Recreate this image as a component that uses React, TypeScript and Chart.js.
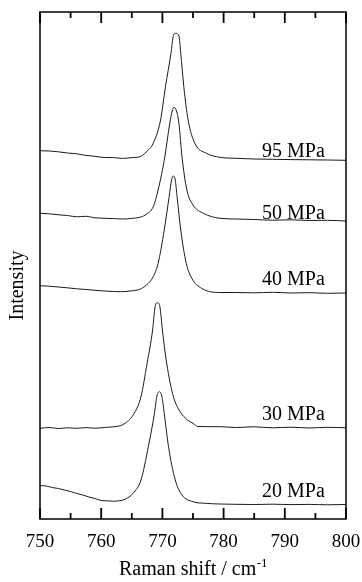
import { useEffect, useRef } from 'react';
import { Chart, registerables } from 'chart.js';

Chart.register(...registerables);

const FONT = '"Liberation Serif", "Times New Roman", serif';

// x: Raman shift (cm-1), y: intensity (arbitrary units, offset spectra)
const x95 = [750, 751.5, 753, 754.5, 756, 757.5, 759, 760.5, 762, 763.5, 765, 766.3, 767.4, 768.5, 769.7, 770.5, 771.4, 771.8, 772.2, 772.7, 773.0, 773.5, 774.2, 775.3, 777.2, 779.4, 782, 785, 788, 791, 794, 797, 800];
const y95 = [368.3, 368.0, 367.2, 366.0, 365.2, 363.6, 362.7, 361.5, 361.4, 360.6, 361.4, 362.3, 367.3, 375.7, 399, 432.3, 465.7, 483.5, 485.7, 483, 465.7, 432.3, 399, 375.7, 365.7, 361.7, 360.7, 360.0, 359.7, 359.4, 359.2, 359.0, 358.7];

const x50 = [750, 751.5, 753, 754.5, 756, 757.5, 759, 760.5, 762, 763.5, 765, 766.3, 767.2, 768.5, 769.3, 770.4, 771.2, 771.6, 771.9, 772.3, 772.7, 773.2, 774.0, 775.0, 776.7, 779.4, 782, 785, 788, 791, 794, 797, 800];
const y50 = [305.7, 305.2, 304.2, 303.5, 302.2, 302.7, 301.2, 300.7, 300.4, 300.0, 300.6, 301.7, 304, 312.3, 329, 362.3, 395.7, 408, 411.7, 408, 395.7, 362.3, 329, 314, 305.7, 300.7, 300, 299.5, 298.8, 299.2, 298.5, 298.7, 298];

const x40 = [750, 751.5, 753, 754.5, 756, 757.5, 759, 760.5, 762, 763.1, 765, 766.3, 767.4, 768.5, 769.3, 770.3, 771.1, 771.5, 771.8, 772.1, 772.4, 773.0, 773.9, 774.8, 776.4, 779.4, 782, 785, 788, 791, 794, 797, 800];
const y40 = [233.3, 232.8, 232, 231.2, 230.2, 229.5, 228.7, 228, 227.5, 227.3, 228.2, 229.7, 234, 242.3, 255.7, 289, 322.3, 339, 343, 339, 322.3, 289, 255.7, 240.7, 230.7, 226.5, 226.5, 226.2, 226.7, 226, 226.3, 225.7, 226];

const x30 = [750, 751.5, 753, 754.5, 756, 757.5, 759, 760.5, 762, 763.1, 763.9, 765.4, 766.5, 767.5, 768.4, 768.8, 769.2, 769.6, 770.0, 770.7, 771.8, 772.9, 774.1, 775.0, 775.8, 779.4, 782, 785, 788, 791, 794, 797, 800];
const y30 = [90.7, 91.5, 90.5, 91.2, 90.7, 91.4, 90.8, 91.5, 92.2, 93.3, 95.7, 105.7, 122.3, 155.7, 189, 212, 216.3, 212, 189, 155.7, 122.3, 107.3, 99, 95.7, 92.5, 92.3, 91.5, 92.2, 91.2, 91.8, 91, 91.7, 91.2];

const x20 = [750, 751, 752, 753, 754, 755, 756, 757, 758, 759, 760, 761, 762, 763, 763.9, 765.2, 766.5, 767.7, 768.7, 769.1, 769.5, 769.9, 770.3, 771.0, 772.1, 773.2, 775.0, 777, 779.4, 782, 785, 788, 791, 794, 797, 800];
const y20 = [33.5, 33, 31.5, 30.5, 29, 27.5, 25.5, 24, 22, 20.5, 18.5, 18.2, 17.8, 18.3, 19.7, 25.7, 39, 72.3, 105.7, 123, 127.3, 123, 105.7, 72.3, 39, 24, 17.3, 15.7, 15, 14.7, 14.5, 14.8, 14.4, 14.6, 14.2, 14.5];

const seriesLabels = ['95 MPa', '50 MPa', '40 MPa', '30 MPa', '20 MPa'];
const seriesX = [x95, x50, x40, x30, x20];
const seriesY = [y95, y50, y40, y30, y20];
const labelX = 791.4;
const labelY = [367, 305, 239, 104, 27];

const xMin = 750;
const xMax = 800;
const xMajorStep = 10;
const xMinorStep = 5;
const yMin = 0;
const yMax = 507;

const decorPlugin = {
  id: 'decor',
  afterDraw(chart: any) {
    const { ctx, chartArea: a, scales } = chart;
    const xs = scales.x;
    const ys = scales.y;
    ctx.save();
    ctx.strokeStyle = '#000';
    ctx.fillStyle = '#000';
    ctx.lineWidth = 1.5;
    ctx.strokeRect(a.left, a.top, a.right - a.left, a.bottom - a.top);

    const n = Math.round((xMax - xMin) / xMinorStep);
    const ratio = Math.round(xMajorStep / xMinorStep);
    ctx.lineWidth = 1.8;
    for (let i = 0; i <= n; i++) {
      const v = xMin + i * xMinorStep;
      const px = xs.getPixelForValue(v);
      const len = i % ratio === 0 ? 11 : 6;
      ctx.beginPath();
      ctx.moveTo(px, a.bottom);
      ctx.lineTo(px, a.bottom - len);
      ctx.stroke();
      ctx.beginPath();
      ctx.moveTo(px, a.top);
      ctx.lineTo(px, a.top + len);
      ctx.stroke();
    }

    ctx.font = `20px ${FONT}`;
    ctx.textAlign = 'center';
    ctx.textBaseline = 'middle';
    seriesLabels.forEach((t, i) => {
      ctx.fillText(t, xs.getPixelForValue(labelX), ys.getPixelForValue(labelY[i]));
    });

    // x title with superscript
    const main = 'Raman shift / cm';
    const sup = '-1';
    ctx.font = `20px ${FONT}`;
    const wMain = ctx.measureText(main).width;
    ctx.font = `13px ${FONT}`;
    const wSup = ctx.measureText(sup).width;
    const cx = (a.left + a.right) / 2;
    const startX = cx - (wMain + wSup) / 2;
    const base = a.bottom + 56;
    ctx.textAlign = 'left';
    ctx.textBaseline = 'alphabetic';
    ctx.font = `20px ${FONT}`;
    ctx.fillText(main, startX, base);
    ctx.font = `13px ${FONT}`;
    ctx.fillText(sup, startX + wMain + 0.5, base - 8);

    // y title
    ctx.save();
    ctx.translate(17.5, (a.top + a.bottom) / 2 + 20);
    ctx.rotate(-Math.PI / 2);
    ctx.font = `20px ${FONT}`;
    ctx.textAlign = 'center';
    ctx.textBaseline = 'middle';
    ctx.fillText('Intensity', 0, 0);
    ctx.restore();
    ctx.restore();
  },
};

export default function App() {
  const ref = useRef<HTMLCanvasElement | null>(null);
  useEffect(() => {
    document.body.style.margin = '0';
    if (!ref.current) return;
    const chart = new Chart(ref.current, {
      type: 'line',
      data: {
        datasets: seriesLabels.map((label, i) => ({
          label,
          data: seriesX[i].map((x, j) => ({ x, y: seriesY[i][j] })),
          borderColor: '#1a1a1a',
          borderWidth: 1,
          pointRadius: 0,
          fill: false,
          cubicInterpolationMode: 'monotone' as const,
        })),
      },
      options: {
        responsive: false,
        animation: false,
        layout: { padding: { top: 12, left: 40, right: 16, bottom: 0 } },
        plugins: { legend: { display: false }, tooltip: { enabled: false } },
        scales: {
          x: {
            type: 'linear',
            min: xMin,
            max: xMax,
            position: 'bottom',
            grid: { display: false, drawTicks: false },
            border: { display: false },
            ticks: {
              stepSize: xMajorStep,
              color: '#000',
              padding: 12,
              font: { family: FONT, size: 19 },
              maxRotation: 0,
            },
            afterFit: (s: any) => {
              s.height = 63;
              s.paddingLeft = 0;
              s.paddingRight = 0;
            },
          },
          y: {
            display: false,
            min: yMin,
            max: yMax,
          },
        },
      },
      plugins: [decorPlugin],
    });
    return () => chart.destroy();
  }, []);
  return (
    <div style={{ width: 362, height: 582 }}>
      <canvas ref={ref} width={362} height={582} style={{ display: 'block' }} />
    </div>
  );
}
